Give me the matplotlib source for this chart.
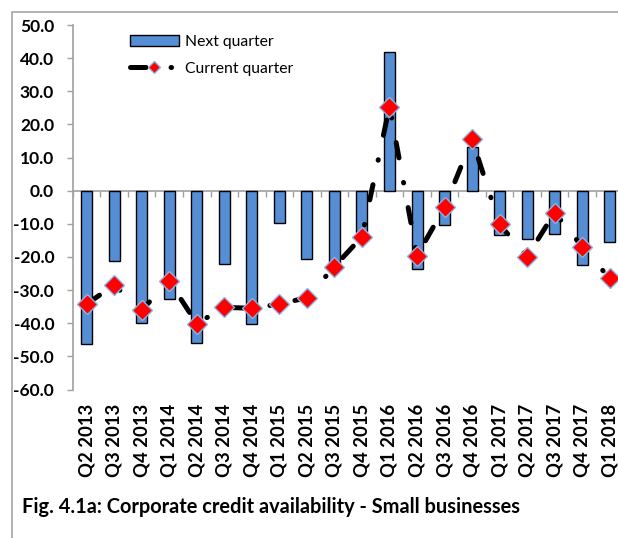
import matplotlib
matplotlib.use("Agg")
import matplotlib.pyplot as plt
from matplotlib.patches import Rectangle
import numpy as np

plt.rcParams['font.family'] = ['Lato', 'DejaVu Sans']
plt.rcParams['lines.scale_dashes'] = False

categories = ["Q2 2013", "Q3 2013", "Q4 2013", "Q1 2014", "Q2 2014", "Q3 2014", "Q4 2014",
              "Q1 2015", "Q2 2015", "Q3 2015", "Q4 2015", "Q1 2016", "Q2 2016", "Q3 2016",
              "Q4 2016", "Q1 2017", "Q2 2017", "Q3 2017", "Q4 2017", "Q1 2018"]
next_quarter = [-46.3, -21.1, -39.8, -32.7, -45.9, -22.1, -40.1, -9.9, -20.7, -22.5,
                -12.5, 41.8, -23.7, -10.3, 13.3, -13.4, -14.5, -13.0, -22.5, -15.4]
current_quarter = [-34.2, -28.5, -36.0, -27.3, -40.1, -35.2, -35.5, -34.2, -32.3, -22.9,
                   -13.9, 25.4, -19.6, -5.0, 15.5, -10.2, -19.9, -6.6, -16.9, -26.5]
yticks = [50, 40, 30, 20, 10, 0, -10, -20, -30, -40, -50, -60]

W, H = 618, 538
fig = plt.figure(figsize=(W / 100, H / 100), dpi=100)

# outer chart border
fig.patches.append(Rectangle((12 / W, -0.05), 1.2, 1 - 12 / H + 0.05, transform=fig.transFigure,
                             fill=False, edgecolor='#a6a6a6', linewidth=1.2))

cw = 27.53
ax = fig.add_axes([72.9 / W, 1 - 389.5 / H, 20 * cw / W, (389.5 - 25) / H])
x = np.arange(len(categories))

bars = ax.bar(x, next_quarter, width=0.4, color='#558ED5', edgecolor='black', linewidth=1.0,
              label='Next quarter', zorder=2)
line, = ax.plot(x, current_quarter, color='black', linewidth=3.6,
                dashes=(11.2, 18.0, 0.36, 18.0), dash_capstyle='round',
                marker='D', markersize=10.5, markerfacecolor='red',
                markeredgecolor='#8DB3E2', markeredgewidth=1.0,
                label='Current quarter', zorder=3)

ax.set_xlim(-0.5, len(categories) - 0.5)
ax.set_ylim(-60, 50)
ax.set_yticks(yticks)
ax.set_yticklabels([f"{v:.1f}" for v in yticks], fontsize=12.5, fontweight='bold')
ax.tick_params(axis='y', direction='out', length=4, color='#a0a0a0', width=1, pad=9.5)

ax.set_xticks(x)
ax.set_xticklabels(categories, rotation=90, fontsize=13.3, fontweight='bold')
ax.tick_params(axis='x', length=0, pad=10)

for s in ['top', 'right', 'bottom']:
    ax.spines[s].set_visible(False)
ax.spines['left'].set_color('#a0a0a0')
ax.spines['left'].set_linewidth(1.2)

# zero axis with category-boundary ticks
sec = ax.secondary_xaxis(60 / 110)
sec.set_alignment('bottom')
sec.set_xticks(np.arange(-0.5, len(categories), 1))
sec.tick_params(axis='x', direction='out', length=4.5, color='#a0a0a0', width=1,
                labelbottom=False, labeltop=False)
sec.spines['bottom'].set_color('#a0a0a0')
sec.spines['bottom'].set_linewidth(1.2)

leg = ax.legend(handles=[bars, line], loc='upper left',
                bbox_to_anchor=(130 / W, 1 - 35 / H), bbox_transform=fig.transFigure,
                frameon=False, fontsize=11.3, handlelength=3.1, handletextpad=0.4,
                labelspacing=0.8, borderpad=0, borderaxespad=0, markerscale=0.55)

fig.text(22 / W, 1 - 507 / H, "Fig. 4.1a: Corporate credit availability - Small businesses",
         fontsize=14.4, fontweight='bold', va='center', ha='left')

fig.savefig("out.png", dpi=100)
